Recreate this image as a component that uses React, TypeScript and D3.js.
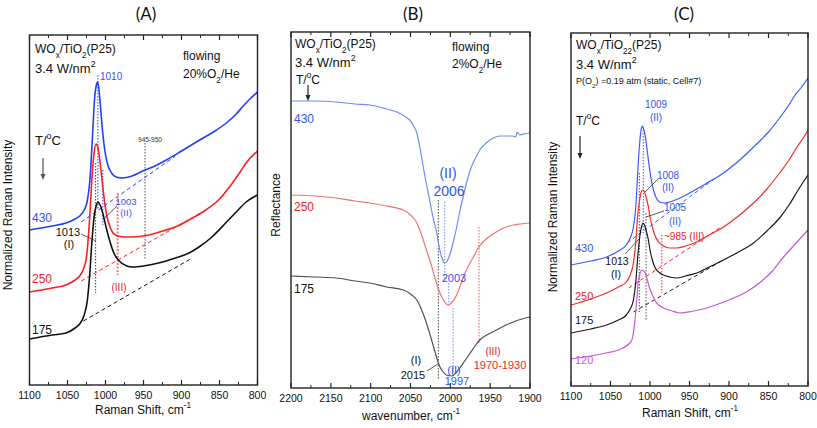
import React from "react";
import * as d3 from "d3";

type Pt = [number, number];

// ---------- tick values ----------
const ramanTicks = [1100, 1050, 1000, 950, 900, 850, 800];
const irTicks = [2200, 2150, 2100, 2050, 2000, 1950, 1900];

// ---------- Panel A: Raman, flowing 20% O2/He (wavenumber, intensity a.u.) ----------
const a430: Pt[] = [[1100,145],[1070,149],[1052,152],[1040,156],[1034,159],[1028,165],[1024,174],[1020,200],[1017,240],[1014.5,275],[1012,290],[1010.5,293],[1009,288],[1007,272],[1004,245],[1001,225],[997,210],[992,202],[986,198],[978,197],[965,199],[951,204],[935,209],[920,215],[900,224],[876,235],[858,243],[841,252],[828,261],[820,268],[810,276],[800,283]];
const a250: Pt[] = [[1100,83],[1070,87],[1052,90],[1040,95],[1034,99],[1029,106],[1025,118],[1021,155],[1018,195],[1015,222],[1012.5,231],[1011,230],[1008,218],[1005,198],[1002,178],[998,158],[993,146],[987,140],[976,138],[965,138],[943,140],[925,144],[908,148],[888,156],[868,165],[850,176],[833,192],[822,204],[815,212],[800,224]];
const a175: Pt[] = [[1100,36],[1070,40],[1052,42],[1040,47],[1034,51],[1028,60],[1024,74],[1021,98],[1018,132],[1015,158],[1012,170],[1010,173],[1007,170],[1003,160],[999,147],[994,133],[989,122],[982,114],[972,109],[965,108],[950,109],[930,112],[908,117],[890,122],[877,128],[860,138],[842,152],[828,163],[815,173],[800,180]];
const a430Base: Pt[] = [[1032,153],[908,219]];
const a250Base: Pt[] = [[1032,94],[873,163]];
const a175Base: Pt[] = [[1029,54],[886,117]];
// vertical guides: [wavenumber, from, to]
const a1010: Pt[] = [[1010,300],[1010,165]];
const a1013: Pt[] = [[1013,212],[1013,82]];
const a1003: Pt[] = [[1003.5,205],[1003.5,150]];
const a984: Pt[] = [[984,182],[984,100]];
const a948: Pt[] = [[948,232],[948,115]];

// ---------- Panel B: DRIFT reflectance, flowing 2% O2/He ----------
const b430: Pt[] = [[2200,287],[2170,287],[2143,286],[2120,284],[2101,283],[2080,279],[2067,276],[2056,271],[2051,268],[2046,262],[2042,255],[2038,240],[2034,221],[2030,204],[2026,188],[2021,168],[2017,155],[2014,141],[2011,131],[2009,127],[2007,125],[2004,127],[2000,135],[1996,147],[1992,161],[1988,177],[1984,191],[1979,207],[1975,218],[1969,229],[1963,238],[1955,245],[1946,250],[1938,252],[1929,252],[1922,252],[1918,251],[1916,256],[1913,253],[1908,254],[1900,255]];
const b250: Pt[] = [[2200,193],[2170,192],[2143,190],[2120,187],[2101,185],[2080,182],[2059,178],[2050,173],[2042,165],[2036,153],[2030,138],[2025,126],[2021,115],[2017,104],[2013,95],[2010,90],[2007,86],[2003,83],[1999,85],[1994,90],[1989,99],[1984,110],[1978,121],[1971,131],[1965,140],[1959,146],[1950,152],[1938,158],[1930,161],[1921,163],[1912,164],[1900,165]];
const b175: Pt[] = [[2200,112],[2170,111],[2143,110],[2120,107],[2101,105],[2080,101],[2059,98],[2050,94],[2042,88],[2036,78],[2030,65],[2025,52],[2021,41],[2017,30],[2013,21],[2009,16],[2005,13],[1998,12],[1993,15],[1988,20],[1982,27],[1975,35],[1969,42],[1963,48],[1952,54],[1942,58],[1930,63],[1921,66],[1910,69],[1900,71]];
const b2015: Pt[] = [[2015,188],[2015,8]];
const b2007: Pt[] = [[2007,186],[2007,105]];
const b2003: Pt[] = [[2002,105],[2002,81]];
const b1997: Pt[] = [[1996.5,80],[1996.5,11]];
const b1964: Pt[] = [[1964,161],[1964,45]];

// ---------- Panel C: Raman, static P(O2)=0.19 atm ----------
const c430: Pt[] = [[1100,122],[1075,126],[1055,130],[1040,136],[1030,142],[1025,149],[1021,160],[1018,180],[1015.5,215],[1013.5,240],[1011.5,256],[1010,261],[1008,258],[1006,251],[1003,233],[1000,215],[996,198],[992,189],[988,185],[982,184],[975,185],[965,188],[950,194],[930,203],[907,214],[885,228],[865,243],[850,255],[835,270],[825,281],[818,290],[808,300],[800,309]];
const c250: Pt[] = [[1100,82],[1075,88],[1055,94],[1040,100],[1030,105],[1025,112],[1021,124],[1018,145],[1015.5,172],[1013,188],[1010.5,196],[1009,197],[1007,195],[1005,190],[1002,180],[1000,170],[997,160],[994,152],[989,145],[983,141],[975,139],[966,139],[955,141],[941,145],[925,152],[907,160],[888,171],[869,184],[852,198],[835,215],[824,227],[814,240],[806,249],[800,257]];
const c175: Pt[] = [[1100,54],[1075,58],[1055,62],[1040,67],[1030,72],[1025,78],[1021,87],[1018,105],[1015.5,130],[1013,150],[1010.5,161],[1009,164],[1007,162],[1005,157],[1002,147],[1000,137],[997,127],[994,120],[989,115],[983,112],[975,110],[966,109],[955,111],[941,114],[925,120],[907,127],[888,135],[869,144],[852,156],[835,170],[824,182],[814,195],[806,205],[800,212]];
const c120: Pt[] = [[1100,28],[1075,31],[1055,34],[1040,37],[1034,39],[1027,43],[1023,47],[1020,60],[1017,85],[1015,104],[1012.5,114],[1010,117],[1008,116],[1006,114],[1003,106],[1001,100],[997,92],[994,87],[989,82],[983,79],[972,76],[962,74],[945,76],[928,79],[910,84],[894,89],[876,96],[860,105],[845,116],[831,130],[815,144],[800,157]];
const c430Base: Pt[] = [[1029,144],[919,208]];
const c250Base: Pt[] = [[1027,99],[910,160]];
const c175Base: Pt[] = [[1021,75],[905,128]];
const c1013: Pt[] = [[1013.5,214],[1013.5,75]];
const c1009: Pt[] = [[1008.5,260],[1008.5,154]];
const c1005: Pt[] = [[1005,174],[1005,67]];
const c985: Pt[] = [[985,152],[985,94]];

// ---------- styles ----------
const FONT = "Arial, 'Liberation Sans', Helvetica, sans-serif";
const A_BLUE = "#1f42f5", A_RED = "#ff1f1f", A_BLACK = "#111111";
const B_BLUE = "#6f8cf2", B_RED = "#f07272", B_BLACK = "#505050";
const C_BLUE = "#3b5cf6", C_RED = "#f22a2a", C_BLACK = "#1a1a1a", C_MAG = "#c456da";
const T_BLUE = "#2f55f0", T_RED = "#ee2222";

type Part = [string, string?];

function Rich({ x, y, parts, size, fill = "#111", anchor = "start", sub = 0.4 }: any) {
  let cur = 0;
  const spans = (parts as Part[]).map(([t, k], i) => {
    const target = k === "sub" ? size * sub : k === "sup" ? -size * 0.5 : 0;
    const dy = target - cur;
    cur = target;
    return (
      <tspan key={i} dy={dy} fontSize={k ? size * 0.68 : size}>
        {t}
      </tspan>
    );
  });
  return (
    <text x={x} y={y} fontSize={size} fill={fill} textAnchor={anchor} fontFamily={FONT}>
      {spans}
    </text>
  );
}

interface LineSpec {
  data: Pt[];
  color: string;
  width: number;
  dash?: string;
  curve?: boolean;
}

function Panel({ id, box, xDomain, yDomain, ticks, lines, children }: any) {
  const x = d3.scaleLinear().domain(xDomain).range([box.left, box.right]);
  const y = d3.scaleLinear().domain(yDomain).range([box.bottom, box.top]);
  const smooth = d3.line<Pt>().x((d) => x(d[0])).y((d) => y(d[1])).curve(d3.curveMonotoneX);
  const straight = d3.line<Pt>().x((d) => x(d[0])).y((d) => y(d[1]));
  const lo = Math.min(xDomain[0], xDomain[1]);
  const hi = Math.max(xDomain[0], xDomain[1]);
  const minor = d3.range(lo, hi + 1, 25).filter((v) => !ticks.includes(v));
  return (
    <g>
      <defs>
        <clipPath id={id}>
          <rect x={box.left} y={box.top} width={box.right - box.left} height={box.bottom - box.top} />
        </clipPath>
      </defs>
      <g clipPath={`url(#${id})`}>
        {(lines as LineSpec[]).map((l, i) => (
          <path
            key={i}
            d={(l.curve ? smooth : straight)(l.data) || ""}
            fill="none"
            stroke={l.color}
            strokeWidth={l.width}
            strokeDasharray={l.dash}
            strokeLinejoin="round"
          />
        ))}
      </g>
      {ticks.map((t: number) => (
        <g key={"M" + t}>
          <line x1={x(t)} x2={x(t)} y1={box.bottom} y2={box.bottom - 5} stroke="#222" strokeWidth={1.2} />
          <line x1={x(t)} x2={x(t)} y1={box.top} y2={box.top + 5} stroke="#222" strokeWidth={1.2} />
          <text x={x(t)} y={box.bottom + 14} textAnchor="middle" fontSize={10.5} fontFamily={FONT} fill="#111">
            {t}
          </text>
        </g>
      ))}
      {minor.map((t: number) => (
        <g key={"m" + t}>
          <line x1={x(t)} x2={x(t)} y1={box.bottom} y2={box.bottom - 3} stroke="#222" strokeWidth={1} />
          <line x1={x(t)} x2={x(t)} y1={box.top} y2={box.top + 3} stroke="#222" strokeWidth={1} />
        </g>
      ))}
      <rect
        x={box.left}
        y={box.top}
        width={box.right - box.left}
        height={box.bottom - box.top}
        fill="none"
        stroke="#222"
        strokeWidth={1.4}
      />
      {children}
    </g>
  );
}

function Arrow({ x, y1, y2, color }: any) {
  return (
    <g>
      <line x1={x} x2={x} y1={y1} y2={y2 - 5} stroke={color} strokeWidth={1.2} />
      <path d={`M${x - 2.5},${y2 - 6} L${x + 2.5},${y2 - 6} L${x},${y2} Z`} fill={color} />
    </g>
  );
}

function Leader({ x1, y1, x2, y2 }: any) {
  return <line x1={x1} y1={y1} x2={x2} y2={y2} stroke="#333" strokeWidth={0.8} />;
}

export default function App() {
  const dot = "1.5 1.5";
  const dash = "4 3";
  const boxA = { left: 29.5, right: 257.5, top: 35, bottom: 385 };
  const boxB = { left: 291, right: 530, top: 32, bottom: 388 };
  const boxC = { left: 571, right: 808, top: 33, bottom: 386 };
  const linesA: LineSpec[] = [
    { data: a430Base, color: A_BLUE, width: 1, dash },
    { data: a250Base, color: A_RED, width: 1, dash },
    { data: a175Base, color: A_BLACK, width: 1, dash },
    { data: a1010, color: A_BLUE, width: 1, dash: dot },
    { data: a1013, color: "#444", width: 1, dash: dot },
    { data: a1003, color: A_BLUE, width: 1, dash: dot },
    { data: a984, color: "#f07a7a", width: 2, dash: "2 1.5" },
    { data: a948, color: "#555", width: 1, dash: dot },
    { data: a430, color: A_BLUE, width: 1.6, curve: true },
    { data: a250, color: A_RED, width: 1.6, curve: true },
    { data: a175, color: A_BLACK, width: 1.6, curve: true },
  ];
  const linesB: LineSpec[] = [
    { data: b2015, color: "#666", width: 1.2, dash: dot },
    { data: b2007, color: B_BLUE, width: 1, dash: dot },
    { data: b2003, color: B_BLUE, width: 1, dash: dot },
    { data: b1997, color: B_BLUE, width: 1, dash: dot },
    { data: b1964, color: B_RED, width: 1.2, dash: dot },
    { data: b430, color: B_BLUE, width: 1.2, curve: true },
    { data: b250, color: B_RED, width: 1.2, curve: true },
    { data: b175, color: B_BLACK, width: 1.2, curve: true },
  ];
  const linesC: LineSpec[] = [
    { data: c430Base, color: C_BLUE, width: 1, dash },
    { data: c250Base, color: C_RED, width: 1, dash },
    { data: c175Base, color: C_BLACK, width: 1, dash },
    { data: c1013, color: "#555", width: 1, dash: dot },
    { data: c1009, color: C_BLUE, width: 1, dash: dot },
    { data: c1005, color: "#555", width: 1, dash: dot },
    { data: c985, color: C_RED, width: 1, dash: dot },
    { data: c430, color: C_BLUE, width: 1.2, curve: true },
    { data: c250, color: C_RED, width: 1.2, curve: true },
    { data: c175, color: C_BLACK, width: 1.2, curve: true },
    { data: c120, color: C_MAG, width: 1.2, curve: true },
  ];
  return (
    <svg
      width={817}
      height={428}
      style={{ position: "absolute", left: 0, top: 0, background: "#fff" }}
      fontFamily={FONT}
    >
      <rect width={817} height={428} fill="#fff" />
      {/* panel titles */}
      <text x={146} y={20} textAnchor="middle" fontSize={17} fontFamily="Lato, 'Open Sans', sans-serif" fill="#111">(A)</text>
      <text x={413} y={20} textAnchor="middle" fontSize={17} fontFamily="Lato, 'Open Sans', sans-serif" fill="#111">(B)</text>
      <text x={684} y={20} textAnchor="middle" fontSize={17} fontFamily="Lato, 'Open Sans', sans-serif" fill="#111">(C)</text>

      {/* ---------------- Panel A ---------------- */}
      <Panel id="clipA" box={boxA} xDomain={[1100, 800]} yDomain={[-10, 340]} ticks={ramanTicks} lines={linesA}>
        <Rich x={35} y={53} size={12} parts={[["WO"], ["x", "sub"], ["/TiO"], ["2", "sub"], ["(P25)"]]} />
        <Rich x={35} y={73} size={13} parts={[["3.4 W/nm"], ["2", "sup"]]} />
        <Rich x={183} y={60} size={12} parts={[["flowing"]]} />
        <Rich x={183} y={78} size={12} parts={[["20%O"], ["2", "sub"], ["/He"]]} />
        <Rich x={35} y={145} size={13} parts={[["T/"], ["o", "sup"], ["C"]]} />
        <Arrow x={43} y1={158} y2={180} color="#555" />
        <Rich x={32} y={222} size={12} fill={T_BLUE} parts={[["430"]]} />
        <Rich x={32} y={283} size={12} fill={T_RED} parts={[["250"]]} />
        <Rich x={32} y={334} size={12} fill="#111" parts={[["175"]]} />
        <Rich x={100} y={80} size={10} fill={T_BLUE} parts={[["1010"]]} />
        <Rich x={126} y={205} size={9.5} fill={T_BLUE} anchor="middle" parts={[["1003"]]} />
        <Rich x={126} y={216} size={9.5} fill={T_BLUE} anchor="middle" parts={[["(II)"]]} />
        <Leader x1={117} y1={206} x2={103.5} y2={219} />
        <Rich x={68} y={236} size={11} anchor="middle" parts={[["1013"]]} />
        <Rich x={69} y={248} size={11} anchor="middle" parts={[["(I)"]]} />
        <Leader x1={81} y1={234} x2={96} y2={241} />
        <Rich x={119} y={291} size={10} fill={T_RED} anchor="middle" parts={[["(III)"]]} />
        <Rich x={150} y={142} size={6.5} fill="#333" anchor="middle" parts={[["945-950"]]} />
      </Panel>
      <text transform="translate(12,215) rotate(-90)" textAnchor="middle" fontSize={12} fontFamily={FONT} fill="#111">
        Normalized Raman Intensity
      </text>
      <Rich x={143} y={414} size={12} anchor="middle" parts={[["Raman Shift, cm"], ["-1", "sup"]]} />

      {/* ---------------- Panel B ---------------- */}
      <Panel id="clipB" box={boxB} xDomain={[2200, 1900]} yDomain={[0, 356]} ticks={irTicks} lines={linesB}>
        <Rich x={295} y={48} size={12} parts={[["WO"], ["x", "sub"], ["/TiO"], ["2", "sub"], ["(P25)"]]} />
        <Rich x={295} y={67} size={13} parts={[["3.4 W/nm"], ["2", "sup"]]} />
        <Rich x={296} y={84} size={12} parts={[["T/"], ["o", "sup"], ["C"]]} />
        <Arrow x={308} y1={85} y2={101} color="#222" />
        <Rich x={452} y={51} size={12} parts={[["flowing"]]} />
        <Rich x={452} y={68} size={12} parts={[["2%O"], ["2", "sub"], ["/He"]]} />
        <Rich x={294} y={123} size={12} fill={T_BLUE} parts={[["430"]]} />
        <Rich x={294} y={211} size={12} fill={T_RED} parts={[["250"]]} />
        <Rich x={294} y={293} size={12} fill="#111" parts={[["175"]]} />
        <Rich x={448} y={178} size={14} fill={T_BLUE} anchor="middle" parts={[["(II)"]]} />
        <Rich x={449} y={196} size={14} fill={T_BLUE} anchor="middle" parts={[["2006"]]} />
        <Rich x={454} y={282} size={11} fill={T_BLUE} anchor="middle" parts={[["2003"]]} />
        <Rich x={416} y={364} size={11} anchor="middle" parts={[["(I)"]]} />
        <Rich x={413} y={379} size={11} anchor="middle" parts={[["2015"]]} />
        <Leader x1={427} y1={371} x2={438} y2={364} />
        <Rich x={454} y={374} size={11} fill={T_BLUE} anchor="middle" parts={[["(II)"]]} />
        <Rich x={457} y={385} size={11} fill={T_BLUE} anchor="middle" parts={[["1997"]]} />
        <Rich x={493} y={355} size={10} fill={T_RED} anchor="middle" parts={[["(III)"]]} />
        <Rich x={500} y={369} size={11} fill={T_RED} anchor="middle" parts={[["1970-1930"]]} />
      </Panel>
      <text transform="translate(280,205) rotate(-90)" textAnchor="middle" fontSize={12} fontFamily={FONT} fill="#111">
        Reflectance
      </text>
      <Rich x={411} y={420} size={12} anchor="middle" parts={[["wavenumber, cm"], ["-1", "sup"]]} />

      {/* ---------------- Panel C ---------------- */}
      <Panel id="clipC" box={boxC} xDomain={[1100, 800]} yDomain={[1, 354]} ticks={ramanTicks} lines={linesC}>
        <Rich x={576} y={49} size={12} parts={[["WO"], ["x", "sub"], ["/TiO"], ["2", "sub"], ["2", "sub"], ["(P25)"]]} />
        <Rich x={576} y={69} size={13} parts={[["3.4 W/nm"], ["2", "sup"]]} />
        <Rich x={576} y={84} size={9} parts={[["P(O"], ["2", "sub"], [") =0.19 atm (static, Cell#7)"]]} />
        <Rich x={576} y={125} size={12} parts={[["T/"], ["o", "sup"], ["C"]]} />
        <Arrow x={580} y1={136} y2={159} color="#222" />
        <Rich x={656} y={108} size={10} fill={T_BLUE} anchor="middle" parts={[["1009"]]} />
        <Rich x={656} y={121} size={10} fill={T_BLUE} anchor="middle" parts={[["(II)"]]} />
        <Rich x={668} y={179} size={10} fill={T_BLUE} anchor="middle" parts={[["1008"]]} />
        <Rich x={668} y={191} size={10} fill={T_BLUE} anchor="middle" parts={[["(II)"]]} />
        <Leader x1={658} y1={179} x2={645} y2={192} />
        <Rich x={675} y={211} size={10} fill={T_BLUE} anchor="middle" parts={[["1005"]]} />
        <Rich x={675} y={225} size={10} fill={T_BLUE} anchor="middle" parts={[["(II)"]]} />
        <Leader x1={664} y1={211} x2={646} y2={217} />
        <Rich x={664} y={240} size={10} fill={T_RED} parts={[["~985 (III)"]]} />
        <Rich x={617} y={265} size={10.5} anchor="middle" parts={[["1013"]]} />
        <Rich x={616} y={278} size={10.5} anchor="middle" parts={[["(I)"]]} />
        <Leader x1={625} y1={254} x2={640} y2={238} />
        <Rich x={575} y={252} size={11} fill={T_BLUE} parts={[["430"]]} />
        <Rich x={575} y={300} size={11} fill={T_RED} parts={[["250"]]} />
        <Rich x={575} y={324} size={11} fill="#111" parts={[["175"]]} />
        <Rich x={575} y={364} size={11} fill={C_MAG} parts={[["120"]]} />
      </Panel>
      <text transform="translate(557,217) rotate(-90)" textAnchor="middle" fontSize={12} fontFamily={FONT} fill="#111">
        Normalized Raman Intensity
      </text>
      <Rich x={690} y={417} size={12} anchor="middle" parts={[["Raman Shift, cm"], ["-1", "sup"]]} />
    </svg>
  );
}
